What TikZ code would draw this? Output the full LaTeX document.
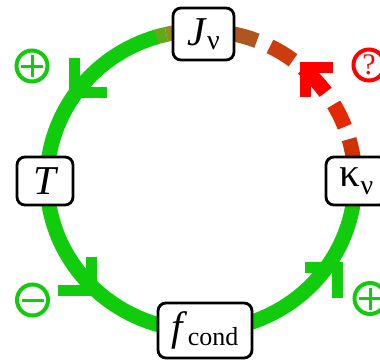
\documentclass[tikz,border=0pt]{standalone}
\usepackage{fontspec}
\setmainfont{Liberation Serif}
\usetikzlibrary{calc}
\definecolor{grn}{RGB}{16,204,12}
\definecolor{olv}{RGB}{150,140,30}
\definecolor{olv2}{RGB}{95,170,25}
\definecolor{dkgrn}{RGB}{55,175,20}
\definecolor{rdA}{RGB}{175,85,30}
\definecolor{rdB}{RGB}{205,60,15}
\definecolor{rdC}{RGB}{228,40,0}
\definecolor{rdD}{RGB}{205,50,0}
\begin{document}
\begin{tikzpicture}[x=1pt,y=1pt,
  box/.style={draw=black, line width=2.8pt, rounded corners=8pt, fill=white, inner sep=0pt, font=\fontsize{41}{44}\selectfont},
  arcline/.style={line width=15pt, line cap=butt},
  chev/.style={line width=11pt, line cap=butt, line join=miter},
  sign/.style={circle, draw, line width=4pt, minimum size=31pt, inner sep=0pt, outer sep=0pt},
  ell/.style={x radius=154, y radius=150}
]
\useasboundingbox (0,0) rectangle (380,360);
\coordinate (C) at (201,179.5);
% green arc J -> T
\draw[arcline, draw=olv] (C) ++(90:154 and 150) arc[ell, start angle=90, end angle=103];
\draw[arcline, draw=olv2] (C) ++(103:154 and 150) arc[ell, start angle=103, end angle=107.5];
\draw[arcline, draw=grn] (C) ++(107:154 and 150) arc[ell, start angle=107, end angle=180];
% green arc T -> fcond
\draw[arcline, draw=grn] (C) ++(180:154 and 150) arc[ell, start angle=180, end angle=270];
% green arc fcond -> kappa
\draw[arcline, draw=grn] (C) ++(270:154 and 150) arc[ell, start angle=270, end angle=350];
\draw[arcline, draw=dkgrn] (C) ++(349.5:154 and 150) arc[ell, start angle=349.5, end angle=360];
% red dashed arc kappa -> J
\draw[arcline, draw=rdD] (C) ++(4:154 and 150) arc[ell, start angle=4, end angle=16];
\draw[arcline, draw=rdC] (C) ++(21:154 and 150) arc[ell, start angle=21, end angle=30.5];
\draw[arcline, draw=red] (C) ++(36:154 and 150) arc[ell, start angle=36, end angle=48.5];
\draw[arcline, draw=rdB] (C) ++(53.3:154 and 150) arc[ell, start angle=53.3, end angle=63.4];
\draw[arcline, draw=rdA] (C) ++(68.7:154 and 150) arc[ell, start angle=68.7, end angle=82];
% arrowheads
\draw[chev, grn] (74,302) -- (74,268) -- (107,268);
\draw[chev, grn] (91,103) -- (91,70) -- (58,70);
\draw[chev, grn] (305,93) -- (337.5,93) -- (337.5,62);
\draw[chev, red] (305,263) -- (305,293) -- (333,293);
% nodes
\node[box, minimum width=61pt, minimum height=52pt] (J) at (203.5,326) {\itshape J\/\raisebox{-0.1em}{\upshape\fontsize{28}{28}\selectfont ν}};
\node[box, minimum width=56pt, minimum height=48pt] (T) at (45,179) {\itshape T};
\node[box, minimum width=61pt, minimum height=48pt] (K) at (356.5,179) {κ\raisebox{-0.2em}{\fontsize{28}{28}\selectfont ν}};
\node[box, minimum width=94pt, minimum height=55pt] (F) at (205,29.5) {\itshape f\/\raisebox{-0.12em}{\upshape\fontsize{26}{26}\selectfont cond}};
% signs
\node[sign, draw=grn] (p1) at (32,294) {};
\draw[grn, line width=3pt] ($(p1)+(-11,0)$) -- ($(p1)+(11,0)$) ($(p1)+(0,-11)$) -- ($(p1)+(0,11)$);
\node[sign, draw=grn] (m1) at (32.5,60) {};
\draw[grn, line width=3pt] ($(m1)+(-11,0)$) -- ($(m1)+(11,0)$);
\node[sign, draw=grn] (p2) at (370,61.5) {};
\draw[grn, line width=3pt] ($(p2)+(-11,0)$) -- ($(p2)+(11,0)$) ($(p2)+(0,-11)$) -- ($(p2)+(0,11)$);
\node[sign, draw=red, text=red, font=\fontsize{30}{30}\selectfont] (q) at (369,295) {?};
\end{tikzpicture}
\end{document}
